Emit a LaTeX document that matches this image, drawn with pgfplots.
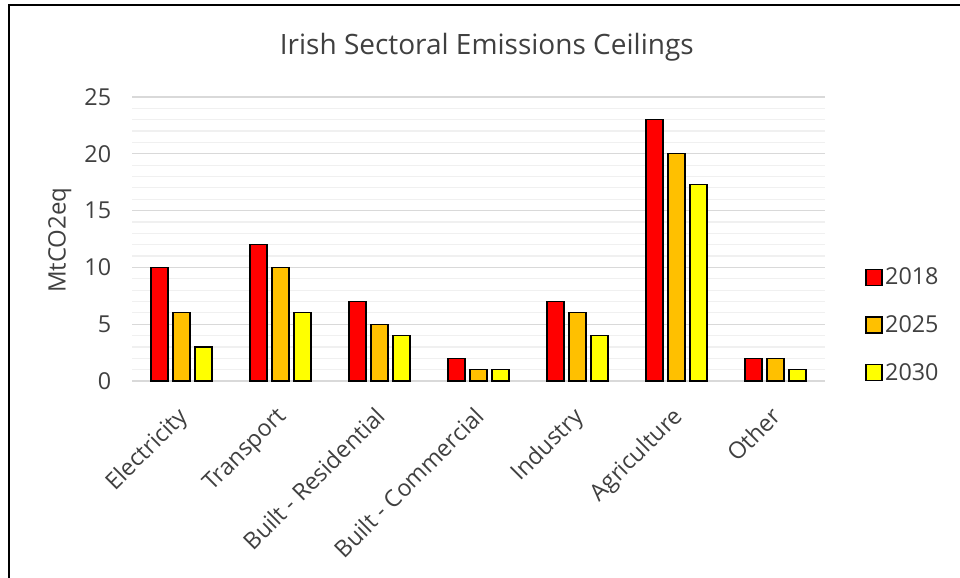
\documentclass[border=0pt]{standalone}
\usepackage{pgfplots}
\pgfplotsset{compat=1.18}
\usepackage{pgfplotstable}
\usepackage{fontspec}
\setmainfont{Open Sans}

\definecolor{ceilRed}{RGB}{255,0,0}
\definecolor{ceilOrange}{RGB}{255,192,0}
\definecolor{ceilYellow}{RGB}{255,255,0}
\definecolor{txt}{RGB}{64,64,64}

% sector ceilings, MtCO2eq
\pgfplotstableread{
idx y2018 y2025 y2030
0   10    6     3
1   12    10    6
2   7     5     4
3   2     1     1
4   7     6     4
5   23    20    17.3
6   2     2     1
}\ceilings

\begin{document}
\begin{tikzpicture}
\useasboundingbox (0,0) rectangle (720pt,433.5pt);
\fill[white] (0,0) rectangle (720pt,433.5pt);
% frame
\draw[line width=1.5pt, black] (6.75pt,0) -- (6.75pt,429.75pt) -- (720pt,429.75pt);
\begin{axis}[
  at={(99pt,147.75pt)}, anchor=south west,
  scale only axis,
  width=519.75pt, height=213pt,
  xmin=-0.5, xmax=6.5,
  ymin=0, ymax=25,
  ytick={0,5,...,25},
  minor y tick num=4,
  xtick=data,
  xticklabels={Electricity,Transport,Built - Residential,Built - Commercial,Industry,Agriculture,Other},
  ymajorgrids, yminorgrids,
  major grid style={color=black!15, line width=0.9pt},
  minor grid style={color=black!6, line width=0.9pt},
  axis x line=bottom, axis y line=left,
  x axis line style={-, color=black!15, line width=0.9pt},
  y axis line style={draw=none},
  tick style={draw=none},
  ybar=3.75pt, bar width=12.75pt,
  every axis plot/.append style={draw=black, line width=0.9pt},
  tick label style={font=\fontsize{17.5}{20}\selectfont, text=txt},
  /pgf/number format/assume math mode=true,
  yticklabel style={anchor=east, xshift=-10pt},
  xticklabel style={xshift=-4pt, yshift=-12.5pt, rotate=45, anchor=north east, inner sep=1pt},
  title={Irish Sectoral Emissions Ceilings},
  title style={font=\fontsize{21}{24}\selectfont, text=txt, at={(axis description cs:0.512,1.148)}, anchor=center},
  ylabel={MtCO2eq},
  ylabel style={font=\fontsize{18}{21}\selectfont, text=txt, at={(axis description cs:-0.104,0.496)}, anchor=center},
  legend image code/.code={\draw[#1] (0pt,-6pt) rectangle (12pt,6pt);},
  legend cell align=left,
  legend style={draw=none, fill=none, at={(axis description cs:1.052,0.197)}, anchor=west,
    font=\fontsize{17.5}{20}\selectfont, text=txt, row sep=17.5pt},
]
\addplot[fill=ceilRed] table[x=idx, y=y2018] {\ceilings};
\addplot[fill=ceilOrange] table[x=idx, y=y2025] {\ceilings};
\addplot[fill=ceilYellow] table[x=idx, y=y2030] {\ceilings};
\legend{2018,2025,2030}
\end{axis}
\end{tikzpicture}
\end{document}
